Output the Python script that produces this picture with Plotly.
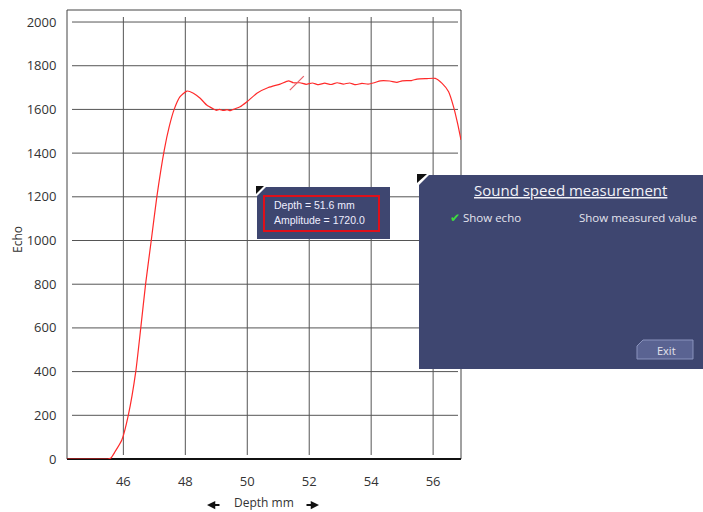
import plotly.graph_objects as go

# ---- data ----
depth_mm = [44.18, 45.08, 45.50, 45.60, 45.73, 45.95, 46.16, 46.40, 46.56, 46.72,
            46.90, 47.08, 47.32, 47.48, 47.64, 47.83, 48.05, 48.26, 48.48, 48.69,
            48.91, 49.00, 49.10, 49.23, 49.35, 49.45, 49.55, 49.77, 49.99, 50.31,
            50.68, 51.06, 51.33, 51.49,
            51.70, 51.90, 52.10, 52.30, 52.50, 52.70, 52.90, 53.10, 53.30, 53.50,
            53.70, 53.90, 54.10,
            54.30, 54.60, 54.83, 55.00, 55.30, 55.48, 55.80, 56.07, 56.29, 56.50,
            56.66, 56.79, 56.90]
echo = [0, 0, 0, 5, 33, 87, 201, 400, 598, 804,
        1000, 1200, 1414, 1521, 1600, 1658, 1684, 1674, 1651, 1620,
        1602, 1596, 1600, 1595, 1599, 1594, 1600, 1612, 1635, 1674,
        1700, 1716, 1731, 1722,
        1722, 1715, 1721, 1713, 1720, 1714, 1722, 1716, 1721, 1713,
        1719, 1716, 1722,
        1731, 1730, 1724, 1731, 1732, 1739, 1741, 1742, 1719, 1681,
        1612, 1536, 1460]

cursor_depth = [51.6]
cursor_amp = [1720.0]

x_ticks = [46, 48, 50, 52, 54, 56]
y_ticks = [0, 200, 400, 600, 800, 1000, 1200, 1400, 1600, 1800, 2000]

x_range = [44.18, 56.9]
y_range = [0, 2055]

# ---- layout geometry (pixels) ----
W, H = 703, 512
L, R, T, B = 67, 461, 10, 459
PW, PH = R - L, B - T


def px(x):
    return (x - L) / PW


def py(y):
    return (B - y) / PH


PANEL = "#3e4670"
FONT = "Open Sans"
UIFONT = "Liberation Sans"

fig = go.Figure()
fig.add_trace(go.Scatter(x=depth_mm, y=echo, mode="lines",
                         line=dict(color="#ff2a2a", width=1.2, shape="spline", smoothing=0.5),
                         hoverinfo="skip", showlegend=False, cliponaxis=False))
fig.add_trace(go.Scatter(x=cursor_depth, y=cursor_amp, mode="markers",
                         marker=dict(symbol="line-ne", size=14,
                                     line=dict(color="#e8606a", width=1.2)),
                         hoverinfo="skip", showlegend=False))

shapes = []
# grid lines (slightly inset like the reference)
for v in x_ticks:
    shapes.append(dict(type="line", xref="x", yref="paper", x0=v, x1=v,
                       y0=4 / PH, y1=1 - 7 / PH,
                       line=dict(color="#555", width=1), layer="below"))
for v in y_ticks[1:]:
    shapes.append(dict(type="line", xref="paper", yref="y", x0=5 / PW, x1=1 - 3 / PW,
                       y0=v, y1=v, line=dict(color="#555", width=1), layer="below"))
# frame
shapes.append(dict(type="line", xref="paper", yref="paper", x0=0, x1=0, y0=0, y1=1,
                   line=dict(color="#444", width=1), layer="below"))
shapes.append(dict(type="line", xref="paper", yref="paper", x0=0, x1=1, y0=1, y1=1,
                   line=dict(color="#444", width=1), layer="below"))
shapes.append(dict(type="line", xref="paper", yref="paper", x0=1, x1=1, y0=0, y1=1,
                   line=dict(color="#444", width=1), layer="below"))
shapes.append(dict(type="line", xref="paper", yref="paper", x0=0, x1=1, y0=0, y1=0,
                   line=dict(color="#111", width=2), layer="below"))


def path(points):
    s = "M " + " L ".join(f"{px(a):.5f},{py(b):.5f}" for a, b in points) + " Z"
    return s


# tooltip box
shapes.append(dict(type="path", xref="paper", yref="paper",
                   path=path([(257, 196), (266, 187), (390, 187), (390, 239), (257, 239)]),
                   fillcolor=PANEL, line=dict(width=0)))
shapes.append(dict(type="path", xref="paper", yref="paper",
                   path=path([(256, 186), (264, 186), (256, 194)]),
                   fillcolor="#111", line=dict(width=0)))
shapes.append(dict(type="rect", xref="paper", yref="paper",
                   x0=px(264), x1=px(379), y0=py(231), y1=py(196),
                   line=dict(color="#e0101a", width=2)))

# side panel
shapes.append(dict(type="path", xref="paper", yref="paper",
                   path=path([(419, 185), (429, 175), (705, 175), (705, 369), (419, 369)]),
                   fillcolor=PANEL, line=dict(width=0)))
shapes.append(dict(type="path", xref="paper", yref="paper",
                   path=path([(417, 174), (427, 174), (417, 183)]),
                   fillcolor="#111", line=dict(width=0)))
# exit button
shapes.append(dict(type="path", xref="paper", yref="paper",
                   path=path([(637, 359), (637, 346), (643, 340), (693, 340), (693, 359)]),
                   fillcolor="#5a6392", line=dict(color="#8a93bd", width=1)))

annotations = [
    dict(text="Echo", xref="paper", yref="paper", x=px(17), y=py(240),
         textangle=-90, showarrow=False, font=dict(family=FONT, size=12, color="#333"),
         xanchor="center", yanchor="middle"),
    dict(text="Depth mm", xref="paper", yref="paper", x=px(264), y=py(502),
         showarrow=False, font=dict(family=FONT, size=12, color="#333"),
         xanchor="center", yanchor="middle"),
    # direction arrows beside the axis title
    dict(text="", xref="paper", yref="paper", x=px(207), y=py(505),
         ax=14, ay=0, showarrow=True, arrowhead=2, arrowsize=0.75, arrowwidth=2.2,
         arrowcolor="#111", standoff=0),
    dict(text="", xref="paper", yref="paper", x=px(319), y=py(505),
         ax=-14, ay=0, showarrow=True, arrowhead=2, arrowsize=0.75, arrowwidth=2.2,
         arrowcolor="#111", standoff=0),
    dict(text=f"Depth = {cursor_depth[0]} mm", xref="paper", yref="paper",
         x=px(272), y=py(205), showarrow=False, xanchor="left", yanchor="middle",
         font=dict(family=UIFONT, size=10.5, color="#eef")),
    dict(text=f"Amplitude = {cursor_amp[0]:.1f}", xref="paper", yref="paper",
         x=px(272), y=py(220), showarrow=False, xanchor="left", yanchor="middle",
         font=dict(family=UIFONT, size=10.5, color="#eef")),
    dict(text="<u>Sound speed measurement</u>", xref="paper", yref="paper",
         x=px(570), y=py(190), showarrow=False, xanchor="center", yanchor="middle",
         font=dict(family=FONT, size=15, color="#f2f2f8")),
    dict(text="<span style='color:#3ddc3d'>✔</span> Show echo", xref="paper", yref="paper",
         x=px(448), y=py(217), showarrow=False, xanchor="left", yanchor="middle",
         font=dict(family=FONT, size=11.5, color="#e4e4ee")),
    dict(text="Show measured value", xref="paper", yref="paper",
         x=px(577), y=py(217), showarrow=False, xanchor="left", yanchor="middle",
         font=dict(family=FONT, size=11.5, color="#e4e4ee")),
    dict(text="Exit", xref="paper", yref="paper",
         x=px(666), y=py(350), showarrow=False, xanchor="center", yanchor="middle",
         font=dict(family=FONT, size=11, color="#e4e4ee")),
]

fig.update_layout(
    width=W, height=H,
    margin=dict(l=L, r=W - R, t=T, b=H - B, pad=0),
    paper_bgcolor="white", plot_bgcolor="white",
    shapes=shapes, annotations=annotations,
    xaxis=dict(range=x_range, tickvals=x_ticks, showgrid=False, zeroline=False,
               showline=False, ticks="outside", ticklen=10, tickcolor="rgba(0,0,0,0)",
               tickfont=dict(family=FONT, size=13, color="#333"), fixedrange=True),
    yaxis=dict(range=y_range, tickvals=y_ticks, showgrid=False, zeroline=False,
               showline=False, ticks="outside", ticklen=7, tickcolor="rgba(0,0,0,0)",
               tickfont=dict(family=FONT, size=13, color="#333"), fixedrange=True),
    showlegend=False,
)

fig.write_html("out.html", config={"displayModeBar": False},
               post_script="document.body.style.margin='0px';document.body.style.overflow='hidden';")
